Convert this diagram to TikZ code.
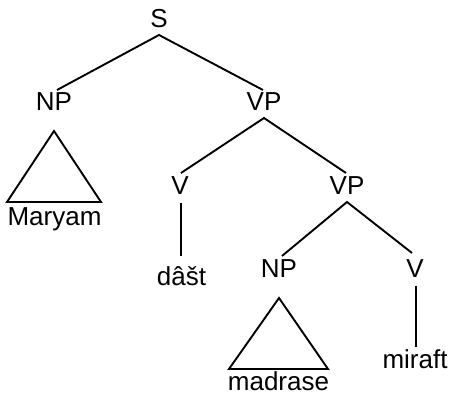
\documentclass[tikz,border=0pt]{standalone}
\usepackage{fontspec}
\setmainfont{Liberation Sans}
\begin{document}
\begin{tikzpicture}[x=1pt,y=-1pt,
  lbl/.style={inner sep=0pt,outer sep=0pt,anchor=base,font=\fontsize{26}{30}\selectfont},
  edge/.style={line width=1.9pt,line join=miter}]
\useasboundingbox (0,0) rectangle (451,395);
\node[lbl] (S) at (159,28) {S};
\node[lbl] (NP) at (54,111) {NP};
\node[lbl] (VP) at (264,111) {VP};
\node[lbl] (V) at (180,195) {V};
\node[lbl] (VPb) at (347,195) {VP};
\node[lbl] (dast) at (181.5,286) {dâšt};
\node[lbl] (NPb) at (279,278) {NP};
\node[lbl] (Vb) at (415,278) {V};
\node[lbl] (Maryam) at (54.5,226) {Maryam};
\node[lbl] (madrase) at (278.5,391) {madrase};
\node[lbl] (miraft) at (415,369) {miraft};
\draw[edge] ([xshift=3pt,yshift=21pt]NP.base) -- ([yshift=-7pt]S.base) -- ([xshift=-1pt,yshift=21pt]VP.base);
\draw[edge] ([xshift=1pt,yshift=22pt]V.base) -- ([yshift=-7pt]VP.base) -- ([xshift=-1pt,yshift=22pt]VPb.base);
\draw[edge] ([xshift=1pt,yshift=-8pt]V.base) -- ([xshift=-0.5pt,yshift=30pt]dast.base);
\draw[edge] ([xshift=3pt,yshift=22pt]NPb.base) -- ([yshift=-7pt]VPb.base) -- ([xshift=-3pt,yshift=25pt]Vb.base);
\draw[edge] ([xshift=1pt,yshift=-8pt]Vb.base) -- ([xshift=1pt,yshift=22pt]miraft.base);
\draw[edge] ([yshift=-20pt]NP.base) -- ([xshift=-47.5pt,yshift=24pt]Maryam.base) -- ([xshift=46.5pt,yshift=24pt]Maryam.base) -- cycle;
\draw[edge] ([yshift=-20pt]NPb.base) -- ([xshift=-49.5pt,yshift=22pt]madrase.base) -- ([xshift=49.5pt,yshift=22pt]madrase.base) -- cycle;
\end{tikzpicture}
\end{document}
